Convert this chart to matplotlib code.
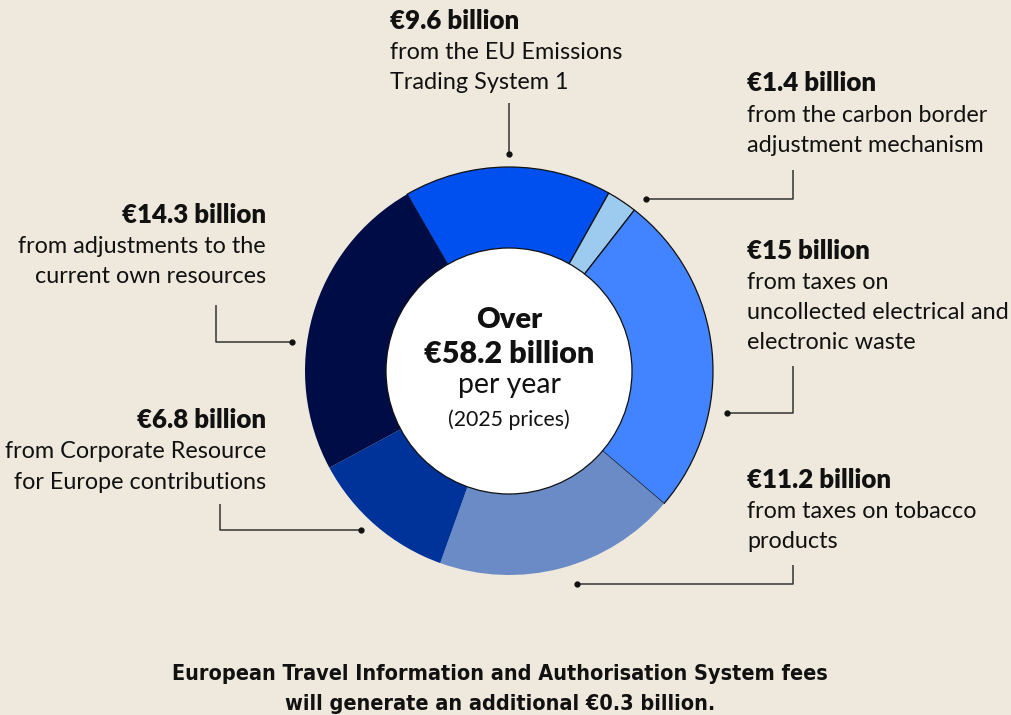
import matplotlib as mpl
import matplotlib.pyplot as plt
from matplotlib.patches import Circle

mpl.rcParams['font.family'] = ['Lato', 'DejaVu Sans']

# revenue sources, billion EUR, clockwise from top
sources = ['EU Emissions Trading System 1',
           'Carbon border adjustment mechanism',
           'Uncollected electrical and electronic waste',
           'Tobacco products',
           'Corporate Resource for Europe',
           'Adjustments to current own resources']
values = [9.6, 1.4, 15, 11.2, 6.8, 14.3]
colors = ['#0050EF', '#9DCAEF', '#4284FF', '#6A8BC6', '#003399', '#000C45']
edged = [True, True, True, False, False, False]

headers = ['€9.6 billion', '€1.4 billion', '€15 billion',
           '€11.2 billion', '€6.8 billion', '€14.3 billion']
bodies = [['from the EU Emissions', 'Trading System 1'],
          ['from the carbon border', 'adjustment mechanism'],
          ['from taxes on', 'uncollected electrical and', 'electronic waste'],
          ['from taxes on tobacco', 'products'],
          ['from Corporate Resource', 'for Europe contributions'],
          ['from adjustments to the', 'current own resources']]

total_text = ['Over', '€58.2 billion', 'per year', '(2025 prices)']
note = ['European Travel Information and Authorisation System fees',
        'will generate an additional €0.3 billion.']

BG = '#EFE9DD'
W, H = 1011, 715


def Y(y):
    return H - y


fig = plt.figure(figsize=(W / 100, H / 100), dpi=100, facecolor=BG)
ax = fig.add_axes([0, 0, 1, 1])
ax.set_facecolor(BG)

cx, cy, r_out, r_in = 509, 371, 204, 123
wedges, _ = ax.pie(values, colors=colors, startangle=120, counterclock=False,
                   center=(cx, Y(cy)), radius=r_out,
                   wedgeprops=dict(linewidth=0))
for w, e in zip(wedges, edged):
    if e:
        w.set_edgecolor('#111111')
        w.set_linewidth(0.9)
ax.add_patch(Circle((cx, Y(cy)), r_in, facecolor='white', edgecolor='#111111',
                    linewidth=0.9, zorder=5))
ax.set_xlim(0, W)
ax.set_ylim(0, H)
ax.set_aspect('equal')
ax.axis('off')

# label layout: (x, first baseline, alignment, line gap, leader path)
layout = [
    (390, 29, 'left', 30, [(509, 103), (509, 154)]),
    (747, 91, 'left', 30.5, [(793, 170), (793, 199), (646, 199)]),
    (747, 259, 'left', 30, [(793, 366), (793, 413), (727, 413)]),
    (747, 488, 'left', 30, [(793, 565), (793, 584), (577, 584)]),
    (266, 428, 'right', 30.5, [(220, 504), (220, 530), (361, 530)]),
    (266, 223, 'right', 30, [(216, 305), (216, 342), (292, 342)]),
]
ink = '#111111'
for head, body, (x, y0, ha, gap, path) in zip(headers, bodies, layout):
    ax.text(x, Y(y0), head, ha=ha, va='baseline', fontsize=18.6,
            fontweight='heavy', color=ink)
    for i, line in enumerate(body):
        ax.text(x, Y(y0 + gap * (i + 1)), line, ha=ha, va='baseline',
                fontsize=16.8, color=ink)
    xs = [p[0] for p in path]
    ys = [Y(p[1]) for p in path]
    ax.plot(xs, ys, color='#333333', lw=1.1, solid_capstyle='butt')
    ax.plot(xs[-1], ys[-1], 'o', color=ink, ms=3.5)

ax.text(cx, Y(328), total_text[0], ha='center', va='baseline', fontsize=21,
        fontweight='heavy', color=ink, zorder=6)
ax.text(cx, Y(363), total_text[1], ha='center', va='baseline', fontsize=22,
        fontweight='heavy', color=ink, zorder=6)
ax.text(cx, Y(393), total_text[2], ha='center', va='baseline', fontsize=20.5,
        color=ink, zorder=6)
ax.text(cx, Y(426), total_text[3], ha='center', va='baseline', fontsize=15.3,
        color=ink, zorder=6)

narrow = ['DejaVu Sans']
ax.text(500, Y(680), note[0], ha='center', va='baseline', fontsize=15.5,
        fontweight='bold', fontstretch='condensed', family=narrow, color=ink)
ax.text(500, Y(710), note[1], ha='center', va='baseline', fontsize=15.5,
        fontweight='bold', fontstretch='condensed', family=narrow, color=ink)

fig.savefig('out.png', dpi=100, facecolor=BG)
